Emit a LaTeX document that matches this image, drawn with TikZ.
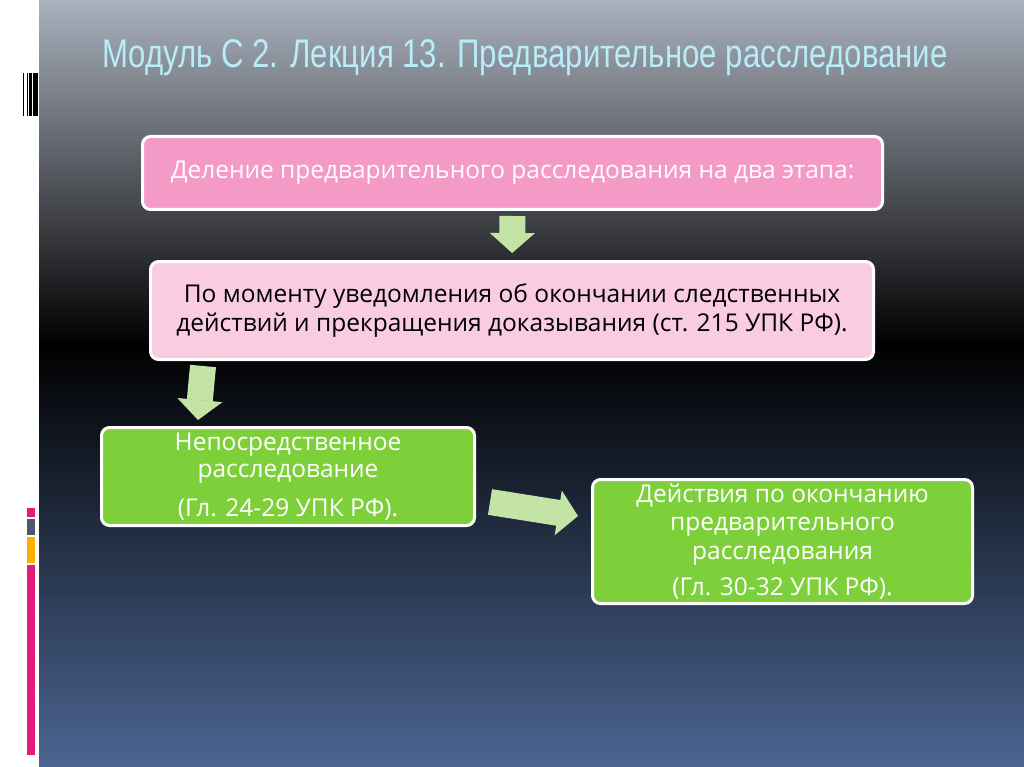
\documentclass[tikz,border=0pt]{standalone}
\usepackage{fontspec}
\setmainfont{Open Sans}
\newfontfamily\titlefont[FakeStretch=0.78]{Liberation Sans}
\usetikzlibrary{arrows.meta}
\definecolor{titlecyan}{RGB}{184,236,246}
\definecolor{bgtop}{RGB}{170,177,189}
\definecolor{bgbottom}{RGB}{76,101,146}
\definecolor{boxpink}{RGB}{244,154,198}
\definecolor{boxrose}{RGB}{249,204,226}
\definecolor{boxgreen}{RGB}{126,208,59}
\definecolor{arrowgreen}{RGB}{196,228,166}
\definecolor{barpink}{RGB}{230,25,125}
\definecolor{bargray}{RGB}{77,90,107}
\definecolor{barorange}{RGB}{255,176,0}

\begin{document}
\begin{tikzpicture}[x=1pt,y=-1pt,
    stagebox/.style={draw=white, line width=3pt, rounded corners=8pt, align=center, inner sep=0pt},
    boxtext/.style={font=\fontsize{24.5}{28.5}\selectfont},
    blockarrow/.style={draw=arrowgreen, line width=26pt, -{Triangle[width=45pt,length=20pt,line width=1pt]}}]
      \useasboundingbox (0,0) rectangle (1024,767);
      % background and side strip
      \fill[white] (0,0) rectangle (1024,767);
      \shade[top color=bgtop, bottom color=black] (39,0) rectangle (1024,345);
      \shade[top color=black, bottom color=bgbottom] (39,345) rectangle (1024,767);
      \fill[black] (23,73) rectangle (24.3,116);
      \fill[black] (26.7,73) rectangle (27.8,116);
      \fill[black] (28.7,73) rectangle (31.7,116);
      \fill[black] (32.7,73) rectangle (37.7,116);
      \fill[barpink] (27,508) rectangle (35,517);
      \fill[bargray] (27,519) rectangle (35,535);
      \fill[barorange] (27,537) rectangle (35,563);
      \fill[barpink] (27,565) rectangle (35,755);
      % title
      \node[name=title, text=titlecyan, font=\titlefont\fontsize{40}{48}\selectfont] at (525,58)
        {Модуль С 2. Лекция 13. Предварительное расследование};
      % boxes
      \node[name=stage, stagebox, boxtext, fill=boxpink, text=white, minimum width=740pt, minimum height=73pt] at (512.5,173)
        {Деление предварительного расследования на два этапа:};
      \node[name=moment, stagebox, boxtext, fill=boxrose, text=black, minimum width=723pt, minimum height=98pt] at (512,310.5)
        {По моменту уведомления об окончании следственных\\действий и прекращения доказывания (ст. 215 УПК РФ).};
      \node[name=direct, stagebox, boxtext, fill=boxgreen, text=white, minimum width=373pt, minimum height=98pt,
        font=\fontsize{24.5}{27}\selectfont] at (288,476.5)
        {Непосредственное\\расследование\\[12pt](Гл. 24-29 УПК РФ).};
      \node[name=final, stagebox, boxtext, fill=boxgreen, text=white, minimum width=380pt, minimum height=124pt] at (782.5,541.5)
        {Действия по окончанию\\предварительного\\расследования\\[8pt](Гл. 30-32 УПК РФ).};
      % arrows
      \coordinate (a2s) at (203,366);
      \coordinate (a2e) at (198,420);
      \coordinate (a3s) at (490,502);
      \coordinate (a3e) at (578,516);
      \draw[blockarrow, shorten <=5pt, shorten >=7pt] (stage.south) -- (moment.north);
      \draw[blockarrow] (a2s) -- (a2e);
      \draw[blockarrow] (a3s) -- (a3e);
    \end{tikzpicture}
\end{document}
